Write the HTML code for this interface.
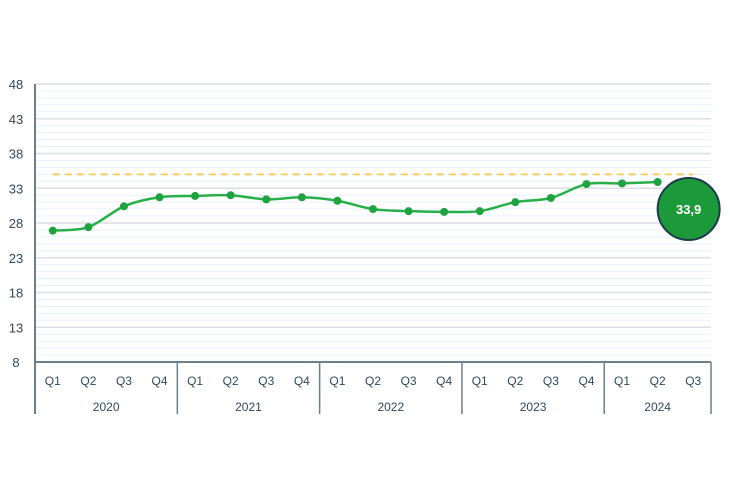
<!DOCTYPE html>
<html><head><meta charset="utf-8"><style>
html,body{margin:0;padding:0;background:#fff;}
svg{display:block;font-family:"Liberation Sans",sans-serif;}
</style></head><body>
<svg id="chart" width="730" height="486">
<g id="grid"></g>
<g id="axes"></g>
<g id="series"></g>
</svg>
<script>
const quarters=["Q1","Q2","Q3","Q4","Q1","Q2","Q3","Q4","Q1","Q2","Q3","Q4","Q1","Q2","Q3","Q4","Q1","Q2","Q3"];
const years=["2020","2021","2022","2023","2024"];
const values=[26.9,27.4,30.4,31.7,31.9,32.0,31.4,31.7,31.2,30.0,29.7,29.6,29.7,31.0,31.6,33.6,33.7,33.9];
const yTicks=[8,13,18,23,28,33,38,43,48];
const target=[35];
const highlightLabel=["33,9"];
const NS="http://www.w3.org/2000/svg";
const L=35,R=711,T=84,B=362,yMin=8,yMax=48;
const band=(R-L)/quarters.length;
const x=i=>L+band*(i+0.5);
const y=v=>B-(v-yMin)/(yMax-yMin)*(B-T);
function mk(tag,parent,at){const e=document.createElementNS(NS,tag);for(const k in at)e.setAttribute(k,at[k]);parent.appendChild(e);return e;}
const grid=document.getElementById('grid'),axes=document.getElementById('axes'),series=document.getElementById('series');
for(let v=yMin+1;v<yMax;v++){if((v-yMin)%5===0)continue;
 const l=mk('line',grid,{x1:L,x2:R,y1:y(v),y2:y(v),stroke:'#e6f1f8','stroke-width':1});
 
 }
yTicks.forEach(v=>{
 if(v>yMin){const l=mk('line',grid,{x1:L,x2:R,y1:y(v),y2:y(v),stroke:'#dcdfe2','stroke-width':1.5});
 
 }
 const t=mk('text',axes,{x:16,y:y(v)+5,'text-anchor':'middle','font-size':13,fill:'#2f4a5c'});t.textContent=v;
 
 
});
let a=mk('line',axes,{x1:L,x2:L,y1:T,y2:414,stroke:'#6b7f8c','stroke-width':2});


a=mk('line',axes,{x1:L,x2:R,y1:B,y2:B,stroke:'#6b7f8c','stroke-width':2});


quarters.forEach((q,i)=>{const t=mk('text',axes,{x:x(i),y:385,'text-anchor':'middle','font-size':12,fill:'#2f4a5c'});t.textContent=q;
 
 });
years.forEach((yr,j)=>{const s=j*4,e=Math.min(s+4,quarters.length);
 const t=mk('text',axes,{x:L+band*(s+e)/2,y:411,'text-anchor':'middle','font-size':12,fill:'#2f4a5c'});t.textContent=yr;
 
 
 const xe=L+band*e;
 const l=mk('line',axes,{x1:xe,x2:xe,y1:B,y2:414,stroke:'#6b7f8c','stroke-width':1.5});
 
 });
const tl=mk('line',series,{x1:x(0),x2:x(quarters.length-1),y1:y(target[0]),y2:y(target[0]),stroke:'#f7c84a','stroke-width':1.8,'stroke-dasharray':'7,5'});


const P=values.map((v,i)=>[x(i),y(v)]);
let d='M'+P[0][0]+','+P[0][1];
for(let i=0;i<P.length-1;i++){const p0=P[Math.max(i-1,0)],p1=P[i],p2=P[i+1],p3=P[Math.min(i+2,P.length-1)];
 const k=0.15;
 d+=` C${p1[0]+(p2[0]-p0[0])*k},${p1[1]+(p2[1]-p0[1])*k} ${p2[0]-(p3[0]-p1[0])*k},${p2[1]-(p3[1]-p1[1])*k} ${p2[0]},${p2[1]}`;}
const ln=mk('path',series,{d:d,fill:'none',stroke:'#27b04a','stroke-width':2.5});


P.forEach(p=>{const c=mk('circle',series,{cx:p[0],cy:p[1],r:4,fill:'#1fa23f'});
 
 });
const last=values.length-1;
const bx=x(last)+31,by=y(values[last])+27;
const bc=mk('circle',series,{cx:bx,cy:by,r:31,fill:'#1c9a3a',stroke:'#1d3a4f','stroke-width':2});


const bt=mk('text',series,{x:bx,y:by+5,'text-anchor':'middle','font-size':13,'font-weight':'bold',fill:'#fff'});bt.textContent=highlightLabel[0];


</script>
</body></html>
